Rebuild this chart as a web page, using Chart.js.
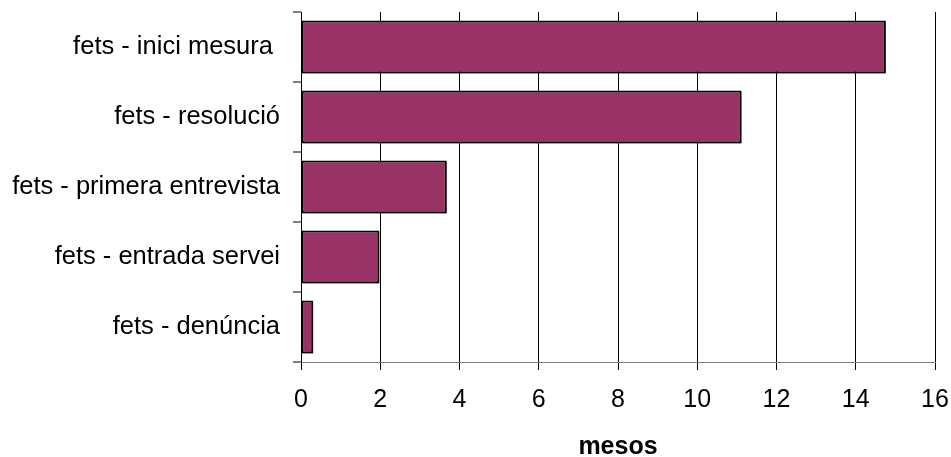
<!DOCTYPE html>
<html>
<head>
<meta charset="utf-8">
<script src="https://cdn.jsdelivr.net/npm/chart.js@4/dist/chart.umd.min.js"></script>
<style>
  html, body { margin: 0; padding: 0; background: #fff; }
  #wrap { width: 951px; height: 457px; }
</style>
</head>
<body>
<div id="wrap"><canvas id="barChart" width="951" height="457"></canvas></div>
<script>
const categories = ['fets - inici mesura ', 'fets - resolució', 'fets - primera entrevista', 'fets - entrada servei', 'fets - denúncia']
const months = [14.76, 11.12, 3.68, 1.98, 0.31]
const xTicks = [0, 2, 4, 6, 8, 10, 12, 14, 16]
const axisTitle = 'mesos'

// grey drop shadow under the bars, like the original
const barShadow = {
    id: 'barShadow',
    beforeDatasetsDraw(chart) {
        chart.ctx.save()
        chart.ctx.shadowColor = 'rgba(0,0,0,0.35)'
        chart.ctx.shadowOffsetX = 2
        chart.ctx.shadowOffsetY = 2
        chart.ctx.shadowBlur = 1
    },
    afterDatasetsDraw(chart) {
        chart.ctx.restore()
    }
}

new Chart(document.getElementById('barChart'), {
    type: 'bar',
    data: {
        labels: categories,
        datasets: [{
            data: months,
            backgroundColor: '#993366',
            borderColor: '#000000',
            borderWidth: 2,
            borderSkipped: false,
            barPercentage: 0.757,
            categoryPercentage: 1
        }]
    },
    options: {
        indexAxis: 'y',
        responsive: false,
        animation: false,
        layout: { padding: { top: 12, right: 16, left: 0, bottom: 0 } },
        plugins: {
            legend: { display: false },
            tooltip: { enabled: false }
        },
        scales: {
            x: {
                min: 0,
                max: 16,
                afterBuildTicks: scale => { scale.ticks = xTicks.map(v => ({ value: v })) },
                afterFit: scale => {
                    scale.height = 95
                    scale.paddingLeft = 0
                    scale.paddingRight = 0
                },
                grid: { color: '#000000', lineWidth: 1, tickLength: 8, tickColor: '#000000' },
                border: { color: '#808080', width: 1 },
                ticks: {
                    color: '#000000',
                    padding: 15,
                    maxRotation: 0,
                    font: { family: 'Liberation Sans, Arial', size: 25 }
                },
                title: {
                    display: true,
                    text: axisTitle,
                    color: '#000000',
                    padding: { top: 0, bottom: -5 },
                    font: { family: 'Liberation Sans, Arial', size: 25, weight: 'bold' }
                }
            },
            y: {
                afterFit: scale => {
                    scale.width = 301
                    scale.paddingTop = 0
                    scale.paddingBottom = 0
                },
                grid: { drawOnChartArea: false, tickLength: 8, tickColor: '#808080', lineWidth: 2 },
                border: { color: '#000000', width: 1 },
                ticks: {
                    color: '#000000',
                    padding: 13,
                    font: { family: 'Liberation Sans, Arial', size: 25.5 }
                }
            }
        }
    },
    plugins: [barShadow]
})
</script>
</body>
</html>
